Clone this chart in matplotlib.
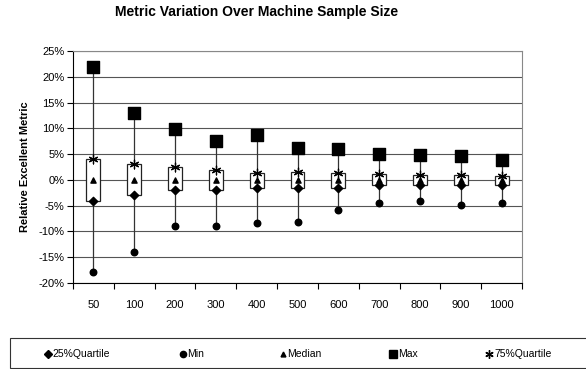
import numpy as np
import matplotlib.pyplot as plt
from matplotlib.patches import Rectangle
from matplotlib.lines import Line2D
from matplotlib.ticker import FuncFormatter, FixedLocator

plt.rcParams['font.family'] = ['Liberation Sans', 'DejaVu Sans']

# data (percent)
sizes = ['50', '100', '200', '300', '400', '500', '600', '700', '800', '900', '1000']
q25 = [-4.0, -3.0, -2.0, -2.0, -1.5, -1.5, -1.5, -1.0, -1.0, -1.0, -1.0]
mins = [-17.8, -13.9, -9.0, -9.0, -8.3, -8.1, -5.8, -4.5, -4.1, -4.9, -4.5]
medians = [0.0, 0.0, 0.0, 0.0, 0.0, 0.0, 0.0, 0.0, 0.0, 0.0, 0.0]
maxs = [21.8, 13.0, 9.9, 7.6, 8.7, 6.2, 6.0, 5.0, 4.8, 4.6, 3.9]
q75 = [4.0, 3.0, 2.5, 2.0, 1.4, 1.5, 1.3, 1.2, 1.0, 0.9, 0.8]

W, H = 586, 369
fig = plt.figure(figsize=(W / 100, H / 100), dpi=100)
ax = fig.add_axes([73 / W, 1 - 283 / H, 449 / W, 232 / H])

x = np.arange(len(sizes))

# whiskers min-max
ax.vlines(x, mins, maxs, color='#333333', lw=0.9, zorder=2)
# boxes from q25 to q75
bw = 0.34
for xi, lo, hi in zip(x, q25, q75):
    ax.add_patch(Rectangle((xi - bw / 2, lo), bw, hi - lo, facecolor='white',
                           edgecolor='#222222', lw=0.9, zorder=3))

styles = [
    ('25%Quartile', q25, dict(marker='D', s=18)),
    ('Min', mins, dict(marker='o', s=22)),
    ('Median', medians, dict(marker='^', s=14)),
    ('Max', maxs, dict(marker='s', s=75)),
    ('75%Quartile', q75, dict(marker=(6, 2, 0), s=40, lw=0.9)),
]
for name, vals, kw in styles:
    ax.scatter(x, vals, color='black', zorder=5, **kw)

ax.set_xlim(-0.5, len(sizes) - 0.5)
ax.set_ylim(-20, 25)
ax.set_yticks(np.arange(-20, 26, 5))
ax.yaxis.set_major_formatter(FuncFormatter(lambda v, p: f'{v:.0f}%'))
ax.set_xticks(x)
ax.set_xticklabels(sizes)
ax.xaxis.set_minor_locator(FixedLocator(np.arange(-0.5, len(sizes), 1)))
ax.tick_params(axis='x', which='major', length=0, pad=12, labelsize=8)
ax.tick_params(axis='x', which='minor', length=4, direction='out', width=0.8)
ax.tick_params(axis='y', length=4, direction='out', labelsize=8, pad=2, width=0.8)
ax.grid(axis='y', color='#555555', lw=0.8, zorder=0)
ax.set_axisbelow(True)
for s in ['top', 'right']:
    ax.spines[s].set_color('#888888')
ax.spines['left'].set_linewidth(0.8)
ax.spines['bottom'].set_linewidth(0.8)

ax.set_ylabel('Relative Excellent Metric', fontsize=8, fontweight='bold', labelpad=6)
fig.text(257 / W, 1 - 12 / H, 'Metric Variation Over Machine Sample Size',
         ha='center', va='center', fontsize=10, fontweight='bold')

# legend box along the bottom, drawn by hand to match the spacing
fig.patches.append(Rectangle((10 / W, 1 - 368 / H), 590 / W, 30 / H, transform=fig.transFigure,
                             facecolor='white', edgecolor='#333333', lw=0.8))
leg_x = [48, 183, 283, 393, 489]
leg_ms = [4, 4.5, 3.5, 6, 6]
ly = 1 - 354 / H
for (name, vals, kw), lx, ms in zip(styles, leg_x, leg_ms):
    fig.add_artist(Line2D([lx / W], [ly], marker=kw['marker'], markersize=ms, color='black',
                          linestyle='none', transform=fig.transFigure))
    fig.text((lx + ms / 2 + 2) / W, ly, name, ha='left', va='center', fontsize=7.5)

fig.savefig('out.png', dpi=100)
